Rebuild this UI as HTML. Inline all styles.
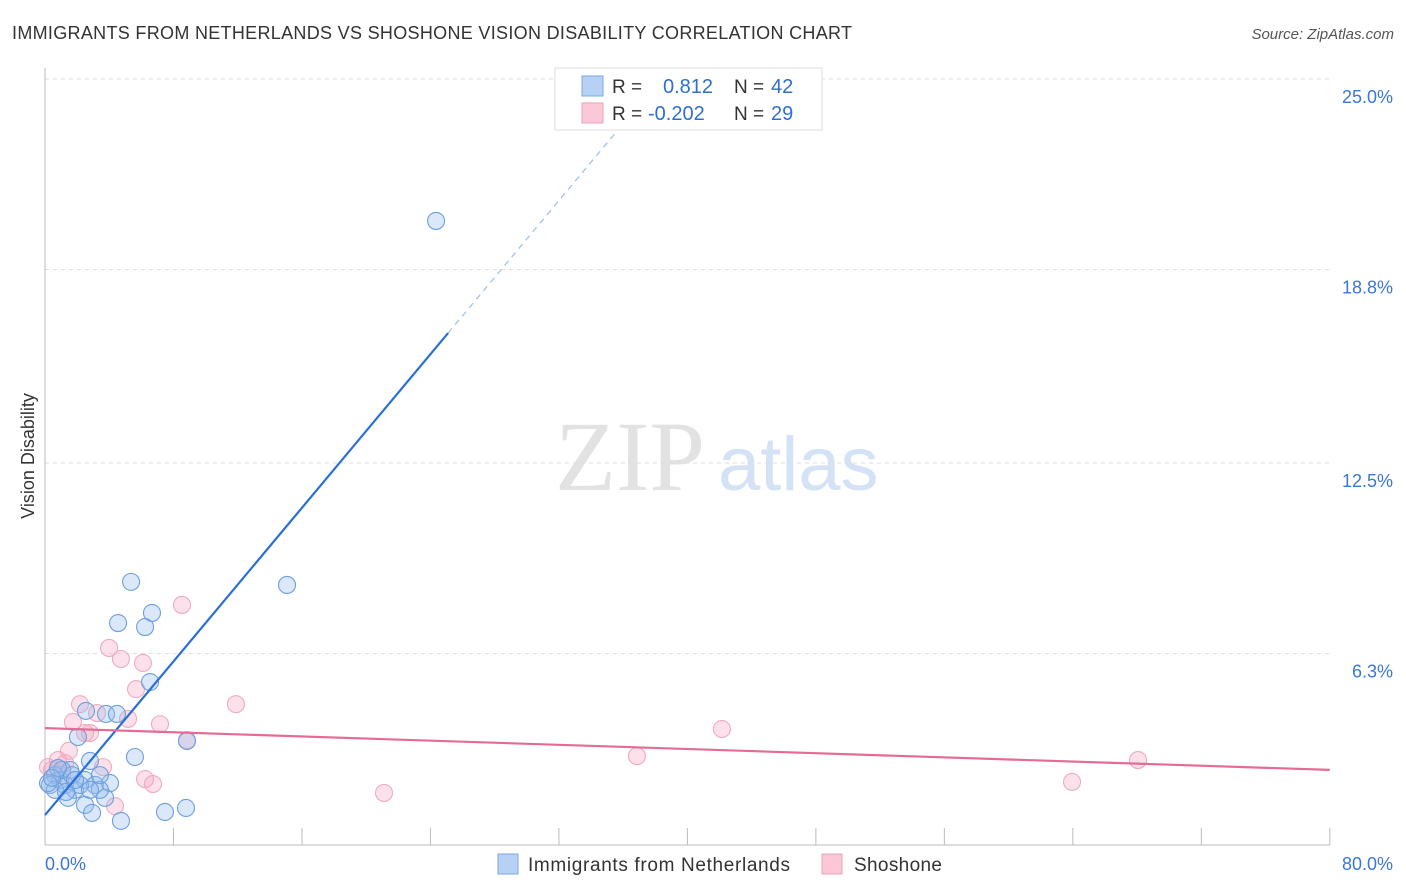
<!DOCTYPE html>
<html><head><meta charset="utf-8"><style>
body{margin:0;background:#fff;font-family:"Liberation Sans",sans-serif;}
#wrap{position:relative;width:1406px;height:892px;overflow:hidden;}
</style></head><body>
<div id="wrap">
<svg id="svg" width="1406" height="892" xmlns="http://www.w3.org/2000/svg">
<text x="12" y="39" font-size="18" fill="#333" textLength="840">IMMIGRANTS FROM NETHERLANDS VS SHOSHONE VISION DISABILITY CORRELATION CHART</text>
<text x="1394" y="39" font-size="15" fill="#555" font-style="italic" text-anchor="end">Source: ZipAtlas.com</text>
<text x="555" y="490" font-size="100" fill="#e2e2e2" font-family="Liberation Serif,serif">ZIP</text>
<text x="718" y="490" font-size="76" fill="#d3e2f5">atlas</text>
<text transform="translate(34,456) rotate(-90)" font-size="18" fill="#333" text-anchor="middle">Vision Disability</text>
<g id="grid"></g><g id="axes"></g><g id="marks"></g>
<g>
<rect x="555" y="68" width="267" height="62" fill="#fff" stroke="#ddd"/>
<rect x="582" y="76" width="21" height="20" fill="#b7d1f5" stroke="#7aa8e6"/>
<rect x="582" y="103" width="21" height="20" fill="#fac8d7" stroke="#f0a0ba"/>
<text x="612" y="93" font-size="19" fill="#333">R =</text>
<text x="663" y="93" font-size="20" fill="#2f6fcf">0.812</text>
<text x="734" y="93" font-size="19" fill="#333">N =</text>
<text x="771" y="93" font-size="20" fill="#2f6fcf">42</text>
<text x="612" y="120" font-size="19" fill="#333">R =</text>
<text x="648" y="120" font-size="20" fill="#2f6fcf">-0.202</text>
<text x="734" y="120" font-size="19" fill="#333">N =</text>
<text x="771" y="120" font-size="20" fill="#2f6fcf">29</text>
</g>
<g>
<rect x="498" y="854" width="20" height="20" fill="#b7d1f5" stroke="#7aa8e6"/>
<text x="528" y="871" font-size="19" fill="#333" textLength="262">Immigrants from Netherlands</text>
<rect x="822" y="854" width="20" height="20" fill="#fac8d7" stroke="#f0a0ba"/>
<text x="854" y="871" font-size="19" fill="#333" textLength="88">Shoshone</text>
</g>
</svg>
</div>
<script>
const yTicks=[25.0,18.8,12.5,6.3];
const yTickLabels=["25.0%","18.8%","12.5%","6.3%"];
const xEndLabels=["0.0%","80.0%"];
const xTickVals=[8,16,24,32,40,48,56,64,72,80];
const blueX=[24.35,15.07,5.36,6.66,4.55,6.23,6.54,3.80,4.48,2.55,8.84,5.60,2.80,2.05,0.62,0.93,1.25,0.31,1.56,1.87,2.49,3.11,4.05,1.43,2.49,2.93,3.74,4.73,7.47,8.78,1.06,1.68,3.42,0.62,0.19,2.18,0.81,1.31,2.80,3.42,0.44,1.87];
const blueY=[20.38,8.53,8.63,7.62,7.29,7.16,5.37,4.33,4.33,4.43,3.45,2.93,2.80,3.58,2.34,2.18,2.02,2.02,2.51,1.86,2.18,2.02,2.08,1.60,1.37,1.11,1.60,0.85,1.14,1.27,2.51,2.34,1.86,1.86,2.08,2.02,2.57,1.79,1.86,2.34,2.25,2.18];
const pinkX=[8.53,3.99,4.73,6.10,5.67,11.89,2.18,3.24,5.17,7.16,1.74,2.49,2.80,8.84,42.15,36.86,68.06,63.95,21.11,1.49,3.61,0.19,0.81,1.25,6.23,6.72,4.36,1.06,0.44];
const pinkY=[7.88,6.48,6.12,5.99,5.14,4.65,4.65,4.36,4.17,4.00,4.07,3.71,3.71,3.48,3.84,2.96,2.83,2.12,1.76,3.13,2.60,2.60,2.83,2.73,2.21,2.05,1.33,2.34,2.51];
const blueLine=[0,1.04,25.1,16.73,38.3];
const pinkLine=[0,3.87,80,2.51];

const NS="http://www.w3.org/2000/svg";
const X=v=>45+v*16.06, Y=v=>847-v*30.72;
function mk(t,a,parent){const e=document.createElementNS(NS,t);for(const k in a)e.setAttribute(k,a[k]);document.getElementById(parent).appendChild(e);return e;}
yTicks.forEach((t,i)=>{
 const l=mk('line',{x1:45,x2:1330,y1:Y(t),y2:Y(t),stroke:'#ddd','stroke-dasharray':'4,4'},'grid');
 
 
 const tx=mk('text',{x:1393,y:Y(t)+24,'font-size':18,fill:'#3a78d6','text-anchor':'end'},'grid');
 tx.textContent=yTickLabels[i];
 
 
});
let a=mk('line',{x1:45,x2:45,y1:68,y2:845,stroke:'#bbb'},'axes');


a=mk('line',{x1:45,x2:1330,y1:845,y2:845,stroke:'#bbb'},'axes');


xTickVals.forEach(v=>{
 const t=mk('line',{x1:X(v),x2:X(v),y1:828,y2:845,stroke:'#bbb'},'axes');
 
 
});
let t0=mk('text',{x:45,y:870,'font-size':18,fill:'#3a78d6'},'axes');t0.textContent=xEndLabels[0];


let t1=mk('text',{x:1393,y:870,'font-size':18,fill:'#3a78d6','text-anchor':'end'},'axes');t1.textContent=xEndLabels[1];


pinkX.forEach((x,i)=>{
 const c=mk('circle',{cx:X(x),cy:Y(pinkY[i]),r:8.5,fill:'rgba(245,170,195,0.35)',stroke:'#efaac1','stroke-width':1.1},'marks');
 
 
});
blueX.forEach((x,i)=>{
 const c=mk('circle',{cx:X(x),cy:Y(blueY[i]),r:8.5,fill:'rgba(150,188,238,0.35)',stroke:'#6e9fdd','stroke-width':1.1},'marks');
 
 
});
const slope=(blueLine[3]-blueLine[1])/(blueLine[2]-blueLine[0]);
let l=mk('line',{x1:X(blueLine[0]),y1:Y(blueLine[1]),x2:X(blueLine[2]),y2:Y(blueLine[3]),stroke:'#2a6fd8','stroke-width':2.2},'marks');


l=mk('line',{x1:X(blueLine[2]),y1:Y(blueLine[3]),x2:X(blueLine[4]),y2:Y(blueLine[1]+slope*blueLine[4]),stroke:'#9dbde8','stroke-width':1.2,'stroke-dasharray':'6,5'},'marks');


l=mk('line',{x1:X(pinkLine[0]),y1:Y(pinkLine[1]),x2:X(pinkLine[2]),y2:Y(pinkLine[3]),stroke:'#e56b95','stroke-width':2.2},'marks');


</script>
</body></html>
